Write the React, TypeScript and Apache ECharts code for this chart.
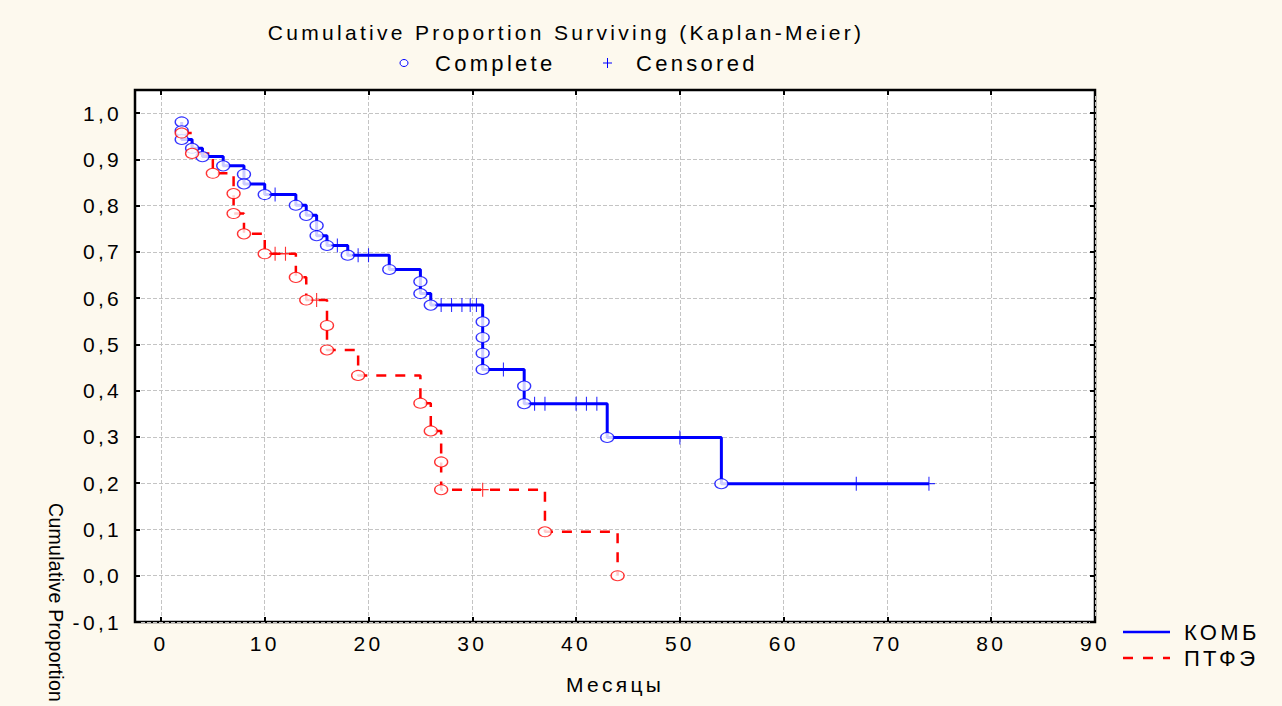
import React, { useEffect, useRef } from 'react';
import * as echarts from 'echarts';

// ---- tick labels ----
const xTicks = [0, 10, 20, 30, 40, 50, 60, 70, 80, 90];
const yTicks = [-0.1, 0, 0.1, 0.2, 0.3, 0.4, 0.5, 0.6, 0.7, 0.8, 0.9, 1.0];

// ---- КОМБ (blue) ----
const kombEventTimes = [2, 2, 2, 3, 4, 6, 8, 8, 10, 13, 14, 15, 15, 16, 18, 22, 25, 25, 26, 31, 31, 31, 31, 35, 35, 43, 54];
const kombEventSurv = [0.981, 0.962, 0.943, 0.924, 0.906, 0.886, 0.868, 0.847, 0.824, 0.801, 0.779, 0.757, 0.735, 0.714, 0.693, 0.662, 0.636, 0.61, 0.585, 0.549, 0.515, 0.481, 0.446, 0.41, 0.372, 0.299, 0.199];
const kombCensTimes = [11, 17, 19, 20, 27, 28, 29, 29.8, 30.4, 33, 36, 37, 40, 41, 42, 50, 67, 74];
const kombCensSurv = [0.824, 0.714, 0.693, 0.693, 0.585, 0.585, 0.585, 0.585, 0.585, 0.446, 0.372, 0.372, 0.372, 0.372, 0.372, 0.299, 0.199, 0.199];

// ---- ПТФЭ (red) ----
const ptfeEventTimes = [2, 3, 5, 7, 7, 8, 10, 13, 14, 16, 16, 19, 25, 26, 27, 27, 37, 44];
const ptfeEventSurv = [0.957, 0.913, 0.87, 0.826, 0.783, 0.739, 0.696, 0.645, 0.596, 0.541, 0.488, 0.433, 0.373, 0.313, 0.246, 0.186, 0.095, 0.0];
const ptfeCensTimes = [11, 12, 15, 31];
const ptfeCensSurv = [0.696, 0.696, 0.596, 0.186];

const BLUE = '#0000ff';
const RED = '#ff0000';
const FONT = '"Liberation Sans", Arial, sans-serif';

function zip(t: number[], s: number[]) {
  return t.map((v, i) => [v, s[i]]);
}

function buildSteps(et: number[], es: number[], ct: number[], cs: number[]) {
  const pts = et
    .map((t, i) => ({ t, s: es[i], k: 0, i }))
    .concat(ct.map((t, i) => ({ t, s: cs[i], k: 1, i })));
  pts.sort((a, b) => a.t - b.t || a.k - b.k || a.i - b.i);
  return pts.map((p) => [p.t, p.s]);
}

const PLUS = 'path://M5,0V10M0,5H10';

export default function App() {
  const ref = useRef<HTMLDivElement>(null);

  useEffect(() => {
    if (!ref.current) return;
    const chart = echarts.init(ref.current, null, { renderer: 'svg' });

    const tickStyle = { show: true, inside: true, length: 5, lineStyle: { color: '#000', width: 2 } };
    const gridLine = { show: true, lineStyle: { color: '#c4c4c4', width: 1, type: [4, 2] as any } };
    const fmt = (v: number) => v.toFixed(1).replace('.', ',');
    const noLine = { show: false, onZero: false };

    const option: any = {
      animation: false,
      backgroundColor: '#fdf9ee',
      textStyle: { fontFamily: FONT },
      grid: {
        left: 135, top: 90, width: 960, height: 532,
        show: true, backgroundColor: '#ffffff', borderColor: '#000', borderWidth: 2.5,
      },
      xAxis: [
        {
          type: 'value', min: -2.5, max: 90, position: 'bottom',
          axisLine: noLine,
          axisTick: { ...tickStyle, customValues: xTicks },
          axisLabel: { customValues: xTicks, fontSize: 21, color: '#000', margin: 11, fontFamily: FONT },
          splitLine: gridLine,
          name: 'Месяцы', nameLocation: 'middle', nameGap: 52,
          nameTextStyle: { fontSize: 21, color: '#000', fontFamily: FONT },
        },
        {
          type: 'value', min: -2.5, max: 90, position: 'top',
          axisLine: noLine,
          axisTick: { ...tickStyle, customValues: xTicks },
          axisLabel: { show: false, customValues: xTicks },
          splitLine: { show: false },
        },
      ],
      yAxis: [
        {
          type: 'value', min: -0.1, max: 1.05, position: 'left',
          axisLine: noLine,
          axisTick: { ...tickStyle, customValues: yTicks },
          axisLabel: { customValues: yTicks, fontSize: 21, color: '#000', margin: 13, formatter: fmt, fontFamily: FONT },
          splitLine: gridLine,
        },
        {
          type: 'value', min: -0.1, max: 1.05, position: 'right',
          axisLine: noLine,
          axisTick: { ...tickStyle, customValues: yTicks },
          axisLabel: { show: false, customValues: yTicks },
          splitLine: { show: false },
        },
      ],
      series: [
        {
          name: 'ПТФЭ', type: 'line', step: 'end', symbol: 'none', silent: true, z: 2,
          data: buildSteps(ptfeEventTimes, ptfeEventSurv, ptfeCensTimes, ptfeCensSurv),
          lineStyle: { color: RED, width: 2.5, type: [10, 9] },
        },
        {
          name: 'КОМБ', type: 'line', step: 'end', symbol: 'none', silent: true, z: 3,
          data: buildSteps(kombEventTimes, kombEventSurv, kombCensTimes, kombCensSurv),
          lineStyle: { color: BLUE, width: 3 },
        },
        {
          name: 'КОМБ complete', type: 'scatter', silent: true, z: 4,
          data: zip(kombEventTimes, kombEventSurv), symbol: 'circle', symbolSize: [13, 10],
          itemStyle: { color: '#ffffff', borderColor: BLUE, borderWidth: 1.2 },
        },
        {
          name: 'ПТФЭ complete', type: 'scatter', silent: true, z: 5,
          data: zip(ptfeEventTimes, ptfeEventSurv), symbol: 'circle', symbolSize: [13, 10],
          itemStyle: { color: '#ffffff', borderColor: RED, borderWidth: 1.2 },
        },
        {
          name: 'КОМБ censored', type: 'scatter', silent: true, z: 6,
          data: zip(kombCensTimes, kombCensSurv), symbol: PLUS, symbolSize: [12, 14],
          itemStyle: { color: 'none', borderColor: BLUE, borderWidth: 1.2 },
        },
        {
          name: 'ПТФЭ censored', type: 'scatter', silent: true, z: 6,
          data: zip(ptfeCensTimes, ptfeCensSurv), symbol: PLUS, symbolSize: [12, 14],
          itemStyle: { color: 'none', borderColor: RED, borderWidth: 1.2 },
        },
      ],
      graphic: [
        {
          type: 'text', x: 566, y: 32, silent: true,
          style: {
            text: 'Cumulative Proportion Surviving (Kaplan-Meier)', fill: '#000',
            font: '21px ' + FONT, align: 'center', verticalAlign: 'middle',
            textAlign: 'center', textVerticalAlign: 'middle',
          },
        },
        {
          type: 'ellipse', silent: true,
          shape: { cx: 404, cy: 63, rx: 4, ry: 3.5 },
          style: { fill: '#fff', stroke: BLUE, lineWidth: 1 },
        },
        {
          type: 'text', x: 435, y: 63, silent: true,
          style: {
            text: 'Complete', fill: '#000', font: '22px ' + FONT,
            align: 'left', verticalAlign: 'middle', textAlign: 'left', textVerticalAlign: 'middle',
          },
        },
        { type: 'line', silent: true, shape: { x1: 603, y1: 63, x2: 612, y2: 63 }, style: { stroke: BLUE, lineWidth: 1 } },
        { type: 'line', silent: true, shape: { x1: 607.5, y1: 58, x2: 607.5, y2: 68 }, style: { stroke: BLUE, lineWidth: 1 } },
        {
          type: 'text', x: 636, y: 63, silent: true,
          style: {
            text: 'Censored', fill: '#000', font: '22px ' + FONT,
            align: 'left', verticalAlign: 'middle', textAlign: 'left', textVerticalAlign: 'middle',
          },
        },
        { type: 'line', silent: true, shape: { x1: 1123, y1: 632, x2: 1170, y2: 632 }, style: { stroke: BLUE, lineWidth: 2.5 } },
        {
          type: 'text', x: 1184, y: 632, silent: true,
          style: {
            text: 'КОМБ', fill: '#000', font: '22px ' + FONT,
            align: 'left', verticalAlign: 'middle', textAlign: 'left', textVerticalAlign: 'middle',
          },
        },
        { type: 'line', silent: true, shape: { x1: 1123, y1: 658, x2: 1170, y2: 658 }, style: { stroke: RED, lineWidth: 2.5, lineDash: [10, 10] } },
        {
          type: 'text', x: 1184, y: 658, silent: true,
          style: {
            text: 'ПТФЭ', fill: '#000', font: '22px ' + FONT,
            align: 'left', verticalAlign: 'middle', textAlign: 'left', textVerticalAlign: 'middle',
          },
        },
        {
          type: 'text', x: 56, y: 503, rotation: -Math.PI / 2, silent: true,
          style: {
            text: 'Cumulative Proportion', fill: '#000', font: '19.5px ' + FONT,
            align: 'left', verticalAlign: 'middle', textAlign: 'left', textVerticalAlign: 'middle',
          },
        },
      ],
    };

    chart.setOption(option);

    ref.current.querySelectorAll('text').forEach((t) => {
      if (t.textContent === 'Cumulative Proportion') {
        (t as SVGTextElement).style.letterSpacing = '0.3px';
      }
    });

    return () => chart.dispose();
  }, []);

  return (
    <div
      ref={ref}
      style={{ position: 'fixed', left: 0, top: 0, width: 1282, height: 706, letterSpacing: '3.3px' }}
    />
  );
}
